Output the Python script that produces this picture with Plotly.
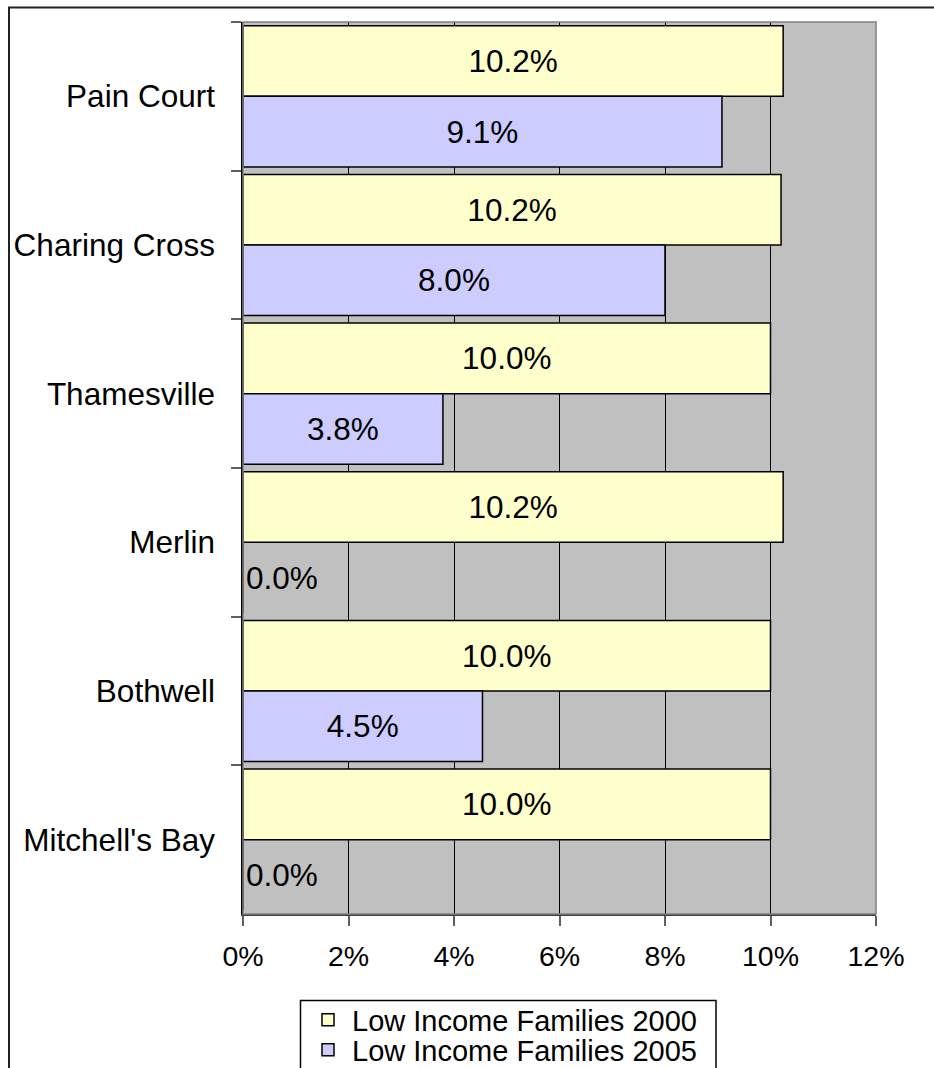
import plotly.graph_objects as go

categories = ["Pain Court", "Charing Cross", "Thamesville", "Merlin", "Bothwell", "Mitchell's Bay"]
low_income_2000 = [10.24, 10.2, 10.0, 10.24, 10.0, 10.0]
low_income_2005 = [9.08, 8.0, 3.79, 0.0, 4.54, 0.0]
x_ticks = [0, 2, 4, 6, 8, 10, 12]
x_tick_labels = ["0%", "2%", "4%", "6%", "8%", "10%", "12%"]

FONT = "Arial, 'Liberation Sans', sans-serif"

# plot area in page pixels
PL, PR, PT, PB = 243, 876, 22, 914
PW, PH = PR - PL, PB - PT


def px_x(x):
    return (x - PL) / PW


def px_y(y):
    return (PB - y) / PH


fig = go.Figure()
for name, vals, color, leg in [
    ("Low Income Families 2000", low_income_2000, "#FFFFCC", "legend"),
    ("Low Income Families 2005", low_income_2005, "#CCCCFF", "legend2"),
]:
    fig.add_trace(go.Bar(
        y=categories, x=vals, orientation="h", name=name, legend=leg,
        marker=dict(color=color, line=dict(color="#000000", width=1.5)),
        text=[f"{v:.1f}%" for v in vals],
        textposition=["outside" if v == 0 else "inside" for v in vals],
        insidetextanchor="middle",
        textfont=dict(family=FONT, size=31.5, color="#000000"),
        constraintext="none", cliponaxis=False,
    ))

legend_common = dict(
    xanchor="left", yanchor="middle",
    borderwidth=0, bgcolor="rgba(0,0,0,0)",
    font=dict(family=FONT, size=29, color="#000000"),
    itemwidth=38,
)

fig.update_layout(
    width=934, height=1068,
    margin=dict(l=PL, r=934 - PR, t=PT, b=1068 - PB, autoexpand=False),
    paper_bgcolor="#FFFFFF", plot_bgcolor="#C0C0C0",
    barmode="group", bargap=0.05, bargroupgap=0,
    font=dict(family=FONT, color="#000000"),
    showlegend=True,
    legend=dict(x=px_x(304), y=px_y(1020), **legend_common),
    legend2=dict(x=px_x(304), y=px_y(1050), **legend_common),
    xaxis=dict(
        range=[0, 12], tickvals=x_ticks, ticktext=x_tick_labels,
        showgrid=True, gridcolor="#000000", gridwidth=1,
        showline=True, linecolor="#404040", linewidth=2,
        ticks="outside", ticklen=10, tickcolor="#606060", tickwidth=1.5,
        tickfont=dict(family=FONT, size=28.5, color="#000000"),
        ticklabelstandoff=6, zeroline=False, fixedrange=True,
    ),
    yaxis=dict(
        autorange="reversed", type="category",
        showline=True, linecolor="#000000", linewidth=1.5,
        ticks="outside", ticklen=10, tickcolor="#606060", tickwidth=1.5,
        tickson="boundaries", showgrid=False,
        tickfont=dict(family=FONT, size=31.5, color="#000000"),
        ticklabelstandoff=20, fixedrange=True,
    ),
    shapes=[
        dict(type="rect", xref="paper", yref="paper", x0=0, x1=1, y0=0, y1=1,
             line=dict(color="#808080", width=1.5), layer="above"),
        dict(type="rect", xref="paper", yref="paper",
             x0=px_x(9), x1=px_x(934) + 0.01, y0=-0.2, y1=px_y(7.5),
             line=dict(color="#222222", width=2), layer="above"),
        dict(type="rect", xref="paper", yref="paper",
             x0=px_x(300.5), x1=px_x(716), y0=px_y(1085), y1=px_y(1000.5),
             line=dict(color="#000000", width=1.5), fillcolor="#FFFFFF",
             layer="above"),
    ],
)

fig.write_html("out.html", config={"displayModeBar": False},
               post_script="document.body.style.margin='0px';")
